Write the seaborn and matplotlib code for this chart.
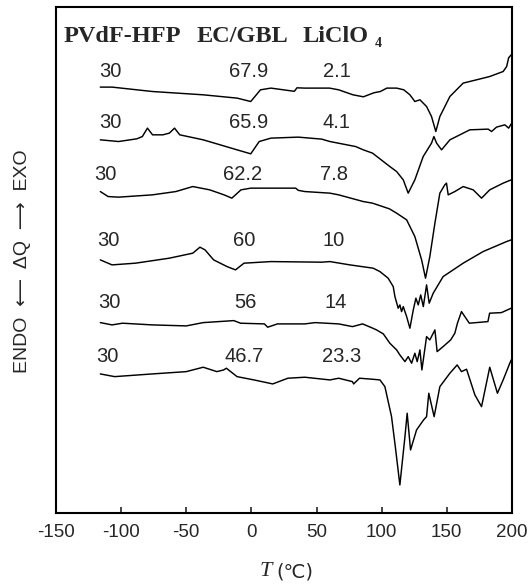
import matplotlib
matplotlib.use('Agg')
import matplotlib.pyplot as plt
import seaborn as sns
import pandas as pd

# DSC traces. y is the vertical position of the trace
# (axis is inverted, no units shown on the original)
t1 = [-116, -107, -76, -37, -11, -0.5, 7, 15, 33, 35, 41, 60, 67, 78, 86, 94, 99, 104, 111.5, 117,
      121.7, 125.5, 129.4, 134.5, 138.3, 141.6, 144.7, 152.4, 162.6, 172.9, 183, 193.3, 196, 197.5, 199.5]
y1 = [87.3, 87.3, 91.7, 95, 98.3, 101.7, 90, 88.3, 91.5, 88, 88.3, 88.3, 90, 95, 97, 93, 91.7, 88.3, 88.3, 90,
      95, 101.7, 100, 106.7, 116.7, 131.7, 116.7, 96.7, 83.3, 80, 76.7, 71.7, 66.7, 58, 55]

t2 = [-116, -102, -88, -83.7, -79.8, -75.9, -68, -63, -59, -55, -37, -11, -0.5, 6, 15, 36, 54, 60.3, 80,
      85.9, 93, 106.3, 111.5, 116.6, 120.4, 125.5, 131.9, 138.3, 140.1, 142.2, 146, 152.4, 167.7, 181.8,
      184.4, 188.2, 194.6, 197.5, 199.5]
y2 = [140, 141.7, 139, 136.7, 128.3, 135, 135, 133.3, 128.3, 135, 140, 150, 154, 141.7, 138.3, 137.3, 139.3,
      141.7, 146.7, 150, 153.3, 166.7, 171.7, 180, 193.3, 180, 156.7, 143.3, 136.7, 143.3, 150, 140, 130,
      129.3, 131.7, 127.3, 125, 128.3, 124]

t3 = [-116, -110, -102, -76, -58, -45, -32, -21, -15, -8, -0.5, 34, 36, 41, 60.3, 67, 85.9, 93, 106,
      111.5, 119.2, 125.5, 130.7, 133.7, 137, 140.9, 144.7, 148.5, 149.8, 151.1, 156.2, 162.6, 170.3,
      176.7, 183, 193.3, 199.5]
y3 = [191.7, 196.7, 197.3, 195, 191.7, 186.7, 190, 195, 198.3, 190, 188.3, 188.3, 190.5, 191.7, 193.3, 195,
      201.7, 203.3, 209, 213.3, 220, 236.7, 260, 278.3, 256.7, 223.3, 193.3, 185, 183.3, 195, 191.7, 186.7,
      190, 198.3, 190, 183.3, 180]

t4 = [-116, -107, -89, -63, -45, -39.5, -35.6, -29, -18.7, -12.2, -5.7, 15, 54, 60.3, 75.6, 93.5, 98.7,
      105, 108.9, 110.2, 112.7, 114, 115.3, 116.6, 119.2, 121.7, 124.3, 126.3, 128.1, 130, 132, 134.5,
      136.5, 139.6, 147.2, 162.6, 177.9, 195.9, 199.5]
y4 = [260, 265, 263.3, 258.3, 253.3, 247.3, 250, 260, 266.7, 270, 263.3, 261.7, 262.3, 261.7, 265, 268.3,
      271.7, 278.3, 286.7, 296.7, 308.3, 305, 311.7, 306.7, 316.7, 328.3, 310, 298.3, 305, 295, 306.7, 285,
      303.3, 293.3, 276.7, 263.3, 251.7, 241.7, 240]

t5 = [-116, -107, -99, -76, -50, -37, -13.5, -8.3, 10, 12.5, 20, 41, 49, 67, 77.6, 85.4, 93.2, 96.1,
      101.3, 106.3, 111.5, 114, 117.9, 120.4, 123, 125.5, 127.3, 129.4, 130.9, 134.5, 137, 140.9, 142.6,
      147.2, 153, 156.2, 158.2, 161.3, 167.3, 181.6, 182.9, 192, 199.5]
y5 = [322.7, 325, 323.3, 325, 326, 322.7, 320.7, 323.3, 324, 327.3, 324, 324, 322.7, 324, 326.7, 324, 328.3,
      330, 334, 343.3, 350, 355, 361.7, 356.7, 363.3, 353.3, 361.7, 350, 370, 336.7, 340, 330, 351.7, 346.7,
      340, 333.3, 323.3, 311.7, 323.3, 321.7, 313.3, 312.7, 308.3]

t6 = [-116, -105, -76, -50, -37, -26.5, -21.3, -19.2, -11, 2, 16.4, 28, 41, 60.3, 67, 77.6, 78.5, 83, 93,
      98.7, 102.5, 107.6, 110.5, 114, 117.9, 119.6, 122.2, 126.8, 132.2, 134.5, 136.2, 140.3, 144.7, 152.4,
      158, 161.3, 165.2, 171.6, 176.7, 183, 188.9, 193.3, 198.4, 199.5]
y6 = [374, 376.7, 374, 371.7, 367.3, 371.7, 370, 368.3, 376.7, 380, 384, 378.3, 377.3, 380, 378.3, 381.7,
      384, 378.3, 379.3, 380, 386.7, 416.7, 446.7, 485, 436.7, 413.3, 450, 430, 420, 416.7, 393.3, 416.7,
      386.7, 373.3, 365, 371.7, 369.3, 395, 406.7, 367.3, 393.3, 380, 363.3, 360]

# composition labels (PVdF-HFP, EC/GBL, LiClO4) per trace
pvdf = ['30', '30', '30', '30', '30', '30']
ecgbl = ['67.9', '65.9', '62.2', '60', '56', '46.7']
licl = ['2.1', '4.1', '7.8', '10', '14', '23.3']

curves = [(t1, y1), (t2, y2), (t3, y3), (t4, y4), (t5, y5), (t6, y6)]
rows = []
for i, (t, y) in enumerate(curves):
    for a, b in zip(t, y):
        rows.append([licl[i], a, b])
df = pd.DataFrame(rows, columns=['salt', 'T', 'q'])

sns.set_style('ticks')
plt.rcParams['font.family'] = ['Liberation Sans', 'DejaVu Sans']
plt.rcParams['axes.unicode_minus'] = False

fig = plt.figure(figsize=(5.31, 5.84), dpi=100)
ax = fig.add_axes([0.1055, 0.1216, 0.8585, 0.8668])

sns.lineplot(data=df, x='T', y='q', hue='salt', palette=['black'] * 6, estimator=None,
             sort=False, legend=False, linewidth=1.05, ax=ax)

ax.set_xlim(-150, 200)
ax.set_ylim(513, 7)
ax.set_xticks([-150, -100, -50, 0, 50, 100, 150, 200])
ax.set_yticks([])
ax.tick_params(axis='x', direction='in', length=4, width=1.2, labelsize=13.5, pad=8)
for s in ax.spines.values():
    s.set_linewidth(1.5)
    s.set_color('black')

# label positions in data coordinates (x = T, y = trace level)
lab_t = [(-108.6, -1.9, 65.7), (-108.6, -1.9, 65.7), (-112.4, -6.5, 63.4),
         (-110.1, -5.7, 63.4), (-109.3, -4.2, 64.9), (-110.9, -5.7, 69.5)]
lab_y = [72, 123, 175, 241, 303, 357]
for i in range(6):
    xa, xb, xc = lab_t[i]
    ax.text(xa, lab_y[i], pvdf[i], ha='center', va='center', fontsize=14.5)
    ax.text(xb, lab_y[i], ecgbl[i], ha='center', va='center', fontsize=14.5)
    ax.text(xc, lab_y[i], licl[i], ha='center', va='center', fontsize=14.5)

serif = ['Liberation Serif', 'DejaVu Serif']
ax.text(-143.9, 37, 'PVdF-HFP', ha='left', va='center', fontsize=17.5, fontweight='bold', family=serif)
ax.text(-41.8, 37, 'EC/GBL', ha='left', va='center', fontsize=17.5, fontweight='bold', family=serif)
ax.text(39.6, 37, 'LiClO', ha='left', va='center', fontsize=17.5, fontweight='bold', family=serif)
ax.text(94.8, 44, '4', ha='left', va='center', fontsize=10, fontweight='bold', family=serif)

ax.set_xlabel('')
ax.set_ylabel('')
fig.text(0.513, 1 - 572 / 584, 'T', ha='right', va='center', fontsize=16,
         style='italic', family=serif)
fig.text(0.52, 1 - 572 / 584, '(℃)', ha='left', va='center', fontsize=14,
         family=['DejaVu Sans', 'Noto Sans CJK SC'])
fig.text(23 / 531, 1 - 261 / 584, 'ENDO  ⟵  ΔQ  ⟶  EXO', rotation=90, ha='center', va='center',
         fontsize=14, family=['Liberation Sans', 'DejaVu Sans'])

fig.savefig('out.png', dpi=100)
